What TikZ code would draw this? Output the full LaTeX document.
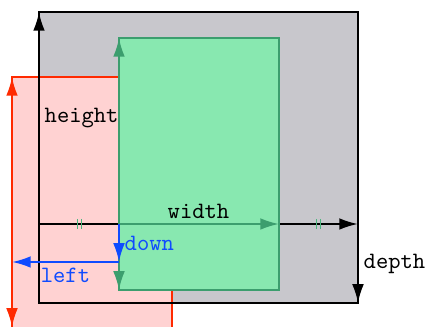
\documentclass[tikz,border=0pt]{standalone}
\usetikzlibrary{arrows.meta}
\definecolor{boxgray}{HTML}{C8C7CC}
\definecolor{movedfill}{HTML}{FFD2D2}
\definecolor{movedline}{HTML}{FF2A00}
\definecolor{newfill}{HTML}{88E8B0}
\definecolor{newline}{HTML}{3C9E6E}
\definecolor{tickgreen}{HTML}{4DB57F}
\definecolor{shiftblue}{HTML}{0F4BFF}
\begin{document}
\begin{tikzpicture}[x=0.015cm,y=-0.015cm,>={Latex[length=8pt,width=5pt]},line width=0.9pt,
    lbl/.style={font=\ttfamily,inner sep=2pt},
    tick/.style={tickgreen,line width=0.4pt}]
  \useasboundingbox (0,0) rectangle (428,327);
  \clip (0,0) rectangle (428,327);
  % reference points
  \coordinate (o) at (39,224);
  \coordinate (ot) at (39,12);
  \coordinate (or) at (358,224);
  \coordinate (od) at (358,303);
  \coordinate (n) at (119,224);
  \coordinate (nt) at (119,38);
  \coordinate (nr) at (279,224);
  \coordinate (nd) at (119,290);
  \coordinate (m) at (12,262);
  \coordinate (mt) at (12,77);
  \coordinate (md) at (12,327);
  \coordinate (s) at (119,262);
  % outer box
  \fill[boxgray] (39,12) rectangle (358,303);
  % moved box
  \draw[movedline,fill=movedfill] (12,77) rectangle (172,345);
  \draw[->,movedline] (m) -- (mt);
  \draw[->,movedline] (m) -- (md);
  % outer frame and dimensions
  \draw (39,12) rectangle (358,303);
  \draw[->] (o) -- node[right,lbl]{height} (ot);
  \draw[->] (o) -- (or);
  \draw[->] (or) -- node[right,lbl]{depth} (od);
  % inner box
  \draw[newline,fill=newfill] (119,38) rectangle (279,290);
  \draw[->,newline] (n) -- (nt);
  \draw[->,newline] (n) -- (nd);
  \draw[->,newline] (n) -- (nr);
  \path (o) -- node[above,lbl]{width} (or);
  % equal gaps
  \draw[tick] (77,219) -- (77,229) (81,219) -- (81,229);
  \draw[tick] (316,219) -- (316,229) (320,219) -- (320,229);
  % shift
  \draw[->,shiftblue] (n) -- node[right,lbl]{down} (s);
  \draw[->,shiftblue] (s) -- node[below,lbl]{left} (m);
\end{tikzpicture}
\end{document}
